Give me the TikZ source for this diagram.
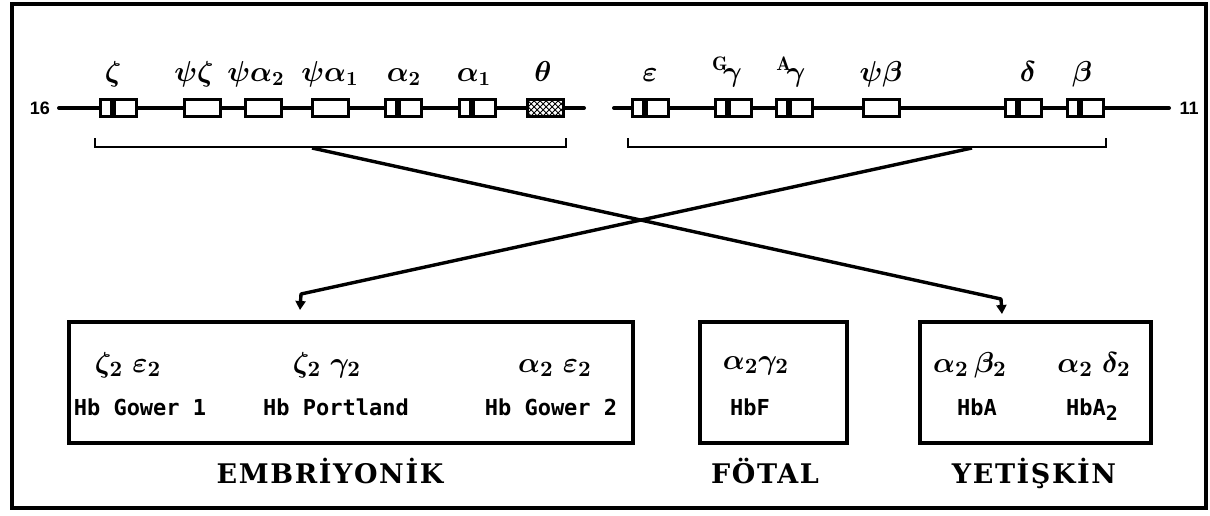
\documentclass[tikz,border=0pt]{standalone}
\usepackage{fontspec}
\usepackage{amsmath,bm}
\usetikzlibrary{arrows.meta,patterns}
\newfontfamily\hbfont{DejaVu Sans Mono}
\newfontfamily\titlefont{DejaVu Serif}[LetterSpace=6]
\newfontfamily\numfont{Liberation Sans}
\begin{document}
\begin{tikzpicture}[x=0.5pt,y=-0.5pt,
  frame/.style={draw, line width=1.8pt},
  chrom/.style={line width=2pt, line cap=round},
  genebox/.style={draw, line width=1.5pt, fill=white, minimum width=18pt,
    minimum height=8.5pt, inner sep=0pt,
    path picture={\fill[black]
      ([xshift=5.2pt]path picture bounding box.south west) rectangle
      ([xshift=8.2pt]path picture bounding box.north west);}},
  pseudobox/.style={draw, line width=1.5pt, fill=white, minimum width=18pt,
    minimum height=8.5pt, inner sep=0pt},
  hatchbox/.style={draw, line width=1.5pt, preaction={fill=white},
    pattern=crosshatch, minimum width=18pt, minimum height=8.5pt, inner sep=0pt},
  glabel/.style={font=\fontsize{14}{16}\selectfont\boldmath, inner sep=0pt, anchor=base},
  chrnum/.style={font=\numfont\bfseries\fontsize{9}{10}\selectfont, inner sep=0pt},
  bracket/.style={line width=1.3pt},
  cross/.style={line width=1.7pt, line join=round},
  tip/.style={-{Triangle[width=5pt,length=4.5pt]}},
  hbbox/.style={draw, line width=1.7pt, inner sep=0pt},
  formula/.style={font=\fontsize{15}{18}\selectfont\boldmath, inner sep=0pt, anchor=base},
  hbname/.style={font=\hbfont\bfseries\fontsize{11}{13}\selectfont, inner sep=0pt, anchor=base},
  stage/.style={font=\titlefont\bfseries\fontsize{13.5}{16}\selectfont, inner sep=0pt, anchor=base}
]
\useasboundingbox (0,0) rectangle (1210,515);
\fill[white] (0,0) rectangle (1210,515);

% outer frame
\draw[frame] (12,4) rectangle (1206,508);

% chromosome 16 (alpha cluster)
\node[chrnum] (n16) at (40,108) {16};
\coordinate (c16a) at (59,108);
\coordinate (c16b) at (584,108);
\draw[chrom] (c16a) -- (c16b);
\node[genebox]   (zeta)   at (118,108) {};
\node[pseudobox] (pzeta)  at (202,108) {};
\node[pseudobox] (pa2)    at (263,108) {};
\node[pseudobox] (pa1)    at (330,108) {};
\node[genebox]   (a2)     at (403,108) {};
\node[genebox]   (a1)     at (477,108) {};
\node[hatchbox]  (theta)  at (545,108) {};

\node[glabel] (lzeta)  at (113,81) {$\zeta$};
\node[glabel] (lpzeta) at (194,81) {$\psi\zeta$};
\node[glabel] (lpa2)   at (256,81) {$\psi\alpha_2$};
\node[glabel] (lpa1)   at (330,81) {$\psi\alpha_1$};
\node[glabel] (la2)    at (404,81) {$\alpha_2$};
\node[glabel] (la1)    at (474,81) {$\alpha_1$};
\node[glabel] (ltheta) at (543,81) {$\theta$};

% chromosome 11 (beta cluster)
\node[chrnum] (n11) at (1189,108) {11};
\coordinate (c11a) at (614,108);
\coordinate (c11b) at (1169,108);
\draw[chrom] (c11a) -- (c11b);
\node[genebox]   (eps)   at (650,108) {};
\node[genebox]   (Gg)    at (733,108) {};
\node[genebox]   (Ag)    at (794,108) {};
\node[pseudobox] (pb)    at (881,108) {};
\node[genebox]   (delta) at (1023,108) {};
\node[genebox]   (beta)  at (1085,108) {};

\node[glabel] (leps)   at (650,81) {$\varepsilon$};
\node[glabel] (lGg)    at (727,81) {${}^{\mathrm{G}}\!\gamma$};
\node[glabel] (lAg)    at (791,81) {${}^{\mathrm{A}}\!\gamma$};
\node[glabel] (lpb)    at (881,81) {$\psi\beta$};
\node[glabel] (ldelta) at (1028,81) {$\delta$};
\node[glabel] (lbeta)  at (1082,81) {$\beta$};

% brackets under the clusters
\draw[bracket] (95,138) -- (95,147) -- (566,147) -- (566,138);
\draw[bracket] (628,138) -- (628,147) -- (1106,147) -- (1106,138);
\coordinate (bl) at (312,148);
\coordinate (br) at (972,148);

% haemoglobin boxes
\node[hbbox, minimum width=282pt, minimum height=60.5pt] (emb) at (351,382.5) {};
\node[hbbox, minimum width=73.5pt, minimum height=60.5pt] (fet) at (773.5,382.5) {};
\node[hbbox, minimum width=115.5pt, minimum height=60.5pt] (adu) at (1035.5,382.5) {};

% crossing connectors
\coordinate (kA) at (1001,299);
\coordinate (tA) at (1002,314);
\coordinate (kB) at (301,294);
\coordinate (tB) at (300,310);
\draw[cross, tip] (bl) -- (kA) -- (tA);
\draw[cross, tip] (br) -- (kB) -- (tB);

% embryonic
\node[formula] (f1) at (128,372) {$\zeta_2\;\varepsilon_2$};
\node[formula] (f2) at (327,372) {$\zeta_2\;\gamma_2$};
\node[formula] (f3) at (555,372) {$\alpha_2\;\varepsilon_2$};
\node[hbname] (h1) at (140,415) {Hb Gower 1};
\node[hbname] (h2) at (336,415) {Hb Portland};
\node[hbname] (h3) at (551,415) {Hb Gower 2};
\node[stage] (s1) at (330,483) {EMBRİYONİK};

% fetal
\node[formula] (f4) at (756,369) {$\alpha_2\gamma_2$};
\node[hbname] (h4) at (750,415) {HbF};
\node[stage] (s2) at (765,483) {FÖTAL};

% adult
\node[formula] (f5) at (970,372) {$\alpha_2\,\beta_2$};
\node[formula] (f6) at (1094,372) {$\alpha_2\;\delta_2$};
\node[hbname] (h5) at (977,415) {HbA};
\node[hbname] (h6) at (1092,415) {HbA\raisebox{-2.5pt}{\fontsize{10}{12}\selectfont 2}};
\node[stage] (s3) at (1034,483) {YETİŞKİN};
\end{tikzpicture}
\end{document}
